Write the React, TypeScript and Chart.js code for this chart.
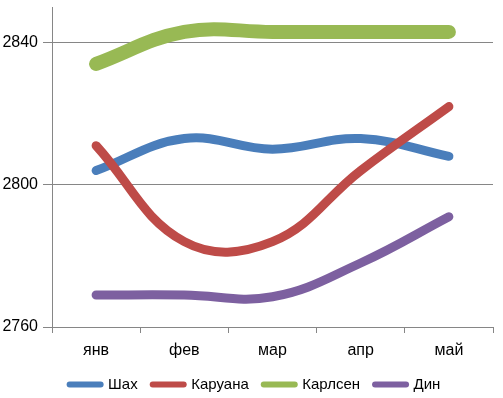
import React, { useEffect, useRef } from "react";
import { Chart, registerables } from "chart.js";

Chart.register(...registerables);

const months = ["янв", "фев", "мар", "апр", "май"];
const shakh = [2804, 2813, 2810, 2813, 2808];
const caruana = [2811, 2784, 2784, 2804, 2822];
const carlsen = [2834, 2843, 2843, 2843, 2843];
const ding = [2769, 2769, 2768.5, 2778, 2791];
const yTicks = [2760, 2800, 2840];
const yMin = 2760;
const yMax = 2850;

const FONT = "'Liberation Sans', Arial, sans-serif";
const GRID = "#868686";

const legendShift = {
  id: "legendShift",
  afterLayout(c: any) {
    if (c.legend) c.legend.left += 17;
  },
};

export default function App() {
  const ref = useRef<HTMLCanvasElement | null>(null);

  useEffect(() => {
    if (!ref.current) return;
    const mk = (label: string, data: number[], color: string, width: number, order: number) => ({
      label,
      data,
      borderColor: color,
      backgroundColor: color,
      borderWidth: width,
      borderCapStyle: "round" as const,
      borderJoinStyle: "round" as const,
      pointRadius: 0,
      pointHoverRadius: 0,
      tension: 0.4,
      fill: false,
      order,
    });
    const chart = new Chart(ref.current, {
      type: "line",
      data: {
        labels: months,
        datasets: [
          mk("Шах", shakh, "#4A7EBB", 9, 1),
          mk("Каруана", caruana, "#BE4B48", 9, 0),
          mk("Карлсен", carlsen, "#98B954", 14, 2),
          mk("Дин", ding, "#7D60A0", 9, 3),
        ],
      },
      plugins: [legendShift],
      options: {
        responsive: false,
        animation: false,
        layout: { padding: { top: 7, right: 10, left: 0, bottom: 0 } },
        plugins: {
          tooltip: { enabled: false },
          legend: {
            position: "bottom",
            labels: {
              usePointStyle: true,
              pointStyleWidth: 31,
              padding: 15,
              color: "#000",
              font: { family: FONT, size: 15 },
              generateLabels: (c: any) =>
                c.data.datasets.map((d: any, i: number) => ({
                  text: d.label,
                  fillStyle: d.borderColor,
                  strokeStyle: d.borderColor,
                  lineWidth: 6,
                  lineCap: "round",
                  pointStyle: "line",
                  hidden: false,
                  fontColor: "#000",
                  datasetIndex: i,
                })),
            },
          },
        },
        scales: {
          x: {
            offset: true,
            grid: {
              display: true,
              offset: true,
              drawOnChartArea: false,
              drawTicks: true,
              tickLength: 6,
              color: GRID,
            },
            border: { color: GRID },
            ticks: { color: "#000", padding: 8, font: { family: FONT, size: 16 } },
            afterFit: (s: any) => {
              s.height = 35;
              s.paddingLeft = 0;
              s.paddingRight = 0;
            },
          },
          y: {
            min: yMin,
            max: yMax,
            afterBuildTicks: (s: any) => {
              s.ticks = yTicks.map((v) => ({ value: v }));
            },
            grid: { color: GRID, tickLength: 9 },
            border: { color: GRID },
            ticks: {
              color: "#000",
              padding: 5,
              font: { family: FONT, size: 16 },
              callback: (v: any) => String(v),
            },
            afterFit: (s: any) => {
              s.width = 52;
              s.paddingTop = 0;
              s.paddingBottom = 0;
            },
          },
        },
      },
    });
    return () => chart.destroy();
  }, []);

  return (
    <div style={{ position: "fixed", left: 0, top: 0, width: 503, height: 398, overflow: "hidden", background: "#fff" }}>
      <canvas ref={ref} width={503} height={402} style={{ display: "block" }} />
    </div>
  );
}
